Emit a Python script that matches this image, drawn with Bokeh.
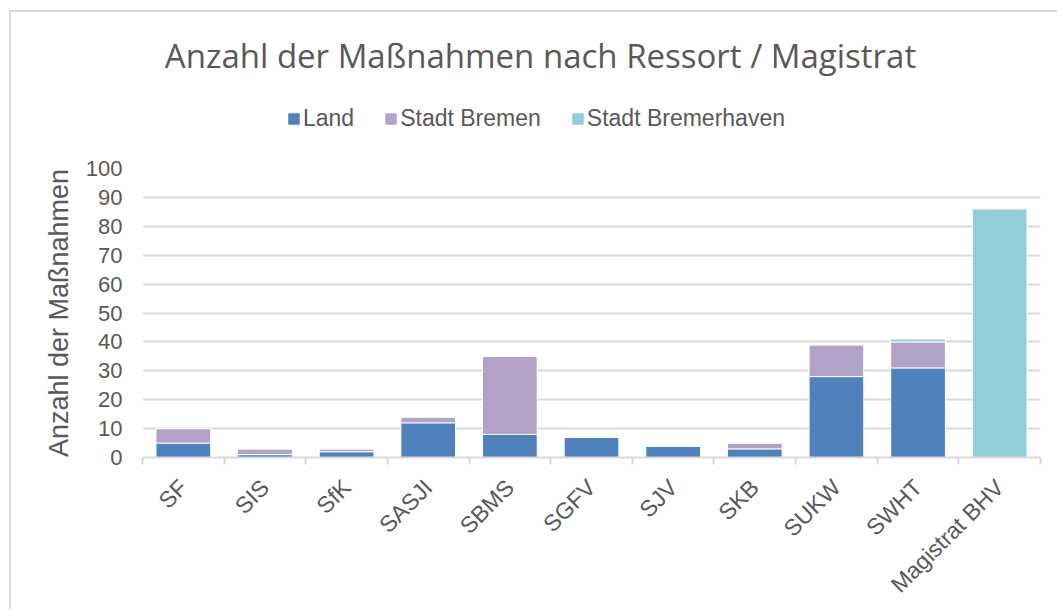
import math
from bokeh.plotting import figure
from bokeh.layouts import column
from bokeh.models import ColumnDataSource, FixedTicker, Range1d, Legend, LegendItem, Label
from bokeh.embed import file_html
from bokeh.resources import INLINE

categories = ["SF", "SIS", "SfK", "SASJI", "SBMS", "SGFV", "SJV", "SKB", "SUKW", "SWHT", "Magistrat BHV"]
land = [5, 1, 2, 12, 8, 7, 4, 3, 28, 31, 0]
stadt_bremen = [5, 2, 1, 2, 27, 0, 0, 2, 11, 9, 0]
stadt_bremerhaven = [0, 0, 0, 0, 0, 0, 0, 0, 0, 1, 86]
series_names = ["Land", "Stadt Bremen", "Stadt Bremerhaven"]
colors = ["#4f81bd", "#b2a2c7", "#92cddc"]
y_ticks = [0, 10, 20, 30, 40, 50, 60, 70, 80, 90, 100]
title_text = "Anzahl der Maßnahmen nach Ressort / Magistrat"

TXT = "#595959"
GRID = "#d9d9d9"
OFF_X, OFF_Y = 11, 12          # outer margin + border of the chart box
W = 1046
TOP_H = 136
FRAME_L, FRAME_R = 142, 1040   # page x of plot frame (header frame is aligned to it)

# ---------- header (title + legend) ----------
head = figure(width=W, height=TOP_H, output_backend="svg", toolbar_location=None,
              x_range=Range1d(FRAME_L, FRAME_R), y_range=Range1d(0, TOP_H), min_border=0,
              x_axis_location=None, y_axis_location=None)
head.grid.visible = False
head.outline_line_color = None

head.add_layout(Label(x=540, y=TOP_H - (55 - OFF_Y), text=title_text, text_align="center",
                      text_baseline="middle", text_font="Open Sans", text_font_size="33px",
                      text_color=TXT))

# legend swatches (off-screen dummies; the legend only uses their colours)
dummies = [head.vbar(x=[-1000], top=[-1000], bottom=[-1001], width=1, color=c) for c in colors]
legend = Legend(items=[LegendItem(label=n, renderers=[r]) for n, r in zip(series_names, dummies)],
                orientation="horizontal", location=(287 - FRAME_L, TOP_H - (118 - OFF_Y) - 14),
                label_text_font="Liberation Sans", label_text_font_size="23px", label_text_color=TXT,
                label_height=28, glyph_width=13, glyph_height=13, label_standoff=3, spacing=30,
                padding=0, margin=0, border_line_color=None, background_fill_alpha=0)
head.add_layout(legend, "center")

# ---------- chart ----------
xs = list(range(len(categories)))
src = ColumnDataSource(dict(x=xs, Land=land, **{"Stadt Bremen": stadt_bremen, "Stadt Bremerhaven": stadt_bremerhaven}))

p = figure(width=W, height=461, output_backend="svg", toolbar_location=None,
           x_range=Range1d(-0.5, len(categories) - 0.5), y_range=Range1d(0, 100),
           min_border_left=FRAME_L - OFF_X, min_border_right=W - (FRAME_R - OFF_X),
           min_border_bottom=152, min_border_top=20)
p.outline_line_color = None

p.vbar_stack(series_names, x="x", width=0.67, source=src, color=colors,
             line_color="white", line_width=1)

xa = p.xaxis[0]
xa.ticker = FixedTicker(ticks=xs, minor_ticks=[i - 0.5 for i in range(len(categories) + 1)])
xa.major_label_overrides = {i: c for i, c in enumerate(categories)}
xa.major_label_orientation = math.pi / 4
xa.major_tick_line_color = None
xa.major_tick_out = 0
xa.major_tick_in = 0
xa.minor_tick_out = 7
xa.minor_tick_in = 0
xa.minor_tick_line_color = GRID
xa.minor_tick_line_width = 2
xa.axis_line_color = GRID
xa.axis_line_width = 2
xa.major_label_text_font_size = "23px"
xa.major_label_text_color = TXT
xa.major_label_text_font = "Liberation Sans"
xa.major_label_standoff = 19

ya = p.yaxis[0]
ya.ticker = FixedTicker(ticks=y_ticks)
ya.axis_line_color = None
ya.major_tick_line_color = None
ya.minor_tick_line_color = None
ya.major_label_text_font_size = "22px"
ya.major_label_text_color = TXT
ya.major_label_text_font = "Liberation Sans"
ya.major_label_standoff = 14
ya.axis_label = "Anzahl der Maßnahmen"
ya.axis_label_text_font_size = "27px"
ya.axis_label_text_font_style = "normal"
ya.axis_label_text_color = TXT
ya.axis_label_text_font = "Liberation Sans"
ya.axis_label_standoff = 9

p.xgrid.grid_line_color = None
p.ygrid.grid_line_color = GRID
p.ygrid.grid_line_width = 2
p.ygrid.ticker = FixedTicker(ticks=y_ticks)

layout = column(head, p, spacing=0, margin=(10, 0, 0, 9),
                styles={"border-top": "2px solid #d9d9d9", "border-left": "2px solid #d9d9d9"})
open("out.html", "w").write(file_html(layout, INLINE))
